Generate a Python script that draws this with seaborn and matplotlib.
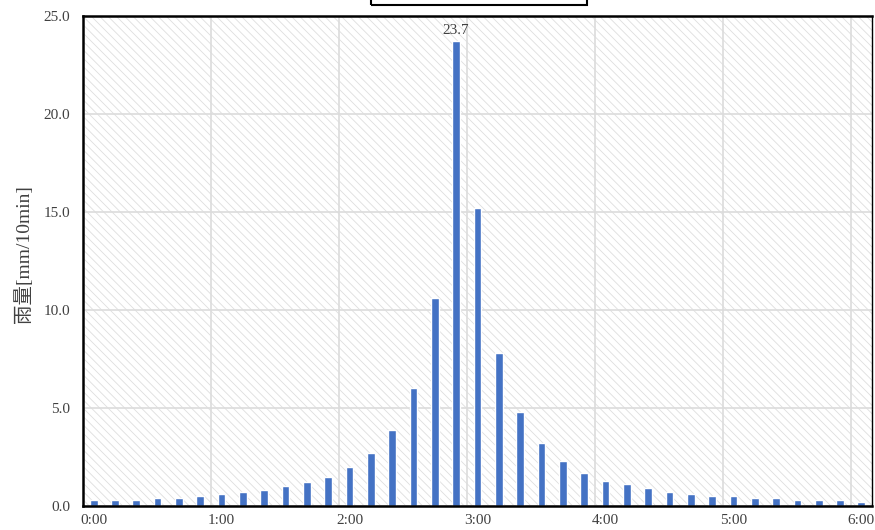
import matplotlib
matplotlib.use("Agg")
import matplotlib.pyplot as plt
from matplotlib.patches import Rectangle
import seaborn as sns
import pandas as pd

# 10-minute rainfall hyetograph, 0:00 - 6:00
times = [f"{m // 60}:{m % 60:02d}" for m in range(0, 370, 10)]
rain = [0.3, 0.3, 0.3, 0.4, 0.4, 0.5, 0.6, 0.7, 0.8, 1.0, 1.2, 1.5,
        2.0, 2.7, 3.9, 6.0, 10.6, 23.7, 15.2, 7.8, 4.8, 3.2, 2.3, 1.7,
        1.3, 1.1, 0.9, 0.7, 0.6, 0.5, 0.5, 0.4, 0.4, 0.3, 0.3, 0.3, 0.2]
hour_labels = ["0:00", "1:00", "2:00", "3:00", "4:00", "5:00", "6:00"]
y_ticks = [0, 5, 10, 15, 20, 25]
peak_label = "23.7"
y_label = "雨量[mm/10min]"

df = pd.DataFrame({"time": times, "rain": rain})

sns.set_theme(style="white")
plt.rcParams["font.family"] = ["Liberation Serif", "Noto Sans CJK TC", "DejaVu Sans"]
plt.rcParams["hatch.linewidth"] = 0.6

fig = plt.figure(figsize=(8.75, 5.3), dpi=100)
ax = fig.add_axes([83 / 875, 24 / 530, 789 / 875, 490 / 530])

# hatched plot background
ax.add_patch(Rectangle((0, 0), 1, 1, transform=ax.transAxes, facecolor="white",
                       edgecolor="#dedede", hatch="\\\\\\\\", linewidth=0, zorder=0))

sns.barplot(data=df, x="time", y="rain", order=times, color="#4472C4",
            width=0.36, saturation=1, ax=ax, zorder=3)

ax.set_xlim(-0.5, len(times) - 0.5)
ax.set_ylim(0, 25)
ax.set_yticks(y_ticks)
ax.set_yticklabels([f"{v:.1f}" for v in y_ticks], fontsize=11, color="#404040")
hour_pos = [times.index(h) for h in hour_labels]
ax.set_xticks(hour_pos)
ax.set_xticklabels(hour_labels, fontsize=11, color="#404040")
ax.set_xticks([p - 0.5 for p in hour_pos], minor=True)
ax.tick_params(axis="both", which="both", length=0)
ax.tick_params(axis="x", pad=6)
ax.tick_params(axis="y", pad=9)

ax.set_axisbelow(True)
ax.yaxis.grid(True, color="#dcdcdc", linewidth=1.2, zorder=1)
ax.xaxis.grid(True, which="minor", color="#dcdcdc", linewidth=1.2, zorder=1)
ax.xaxis.grid(False, which="major")

for side in ["left", "bottom", "top"]:
    ax.spines[side].set_color("black")
    ax.spines[side].set_linewidth(1.8)
ax.spines["right"].set_color("black")
ax.spines["right"].set_linewidth(1.0)
for s in ax.spines.values():
    s.set_visible(True)
    s.set_zorder(5)

ax.set_xlabel("")
ax.set_ylabel(y_label, fontsize=14, color="#404040")
ax.yaxis.set_label_coords(-0.063, 0.515)

peak_i = rain.index(max(rain))
ax.text(peak_i, max(rain) + 0.25, peak_label, ha="center", va="bottom",
        fontsize=11, color="#404040", zorder=6)

# title frame at the top edge
fig.add_artist(Rectangle((371 / 875, 1 - 5 / 530), (587 - 371) / 875, 0.1,
                         transform=fig.transFigure, fill=False,
                         edgecolor="black", linewidth=1.5))

fig.savefig("out.png", dpi=100)
